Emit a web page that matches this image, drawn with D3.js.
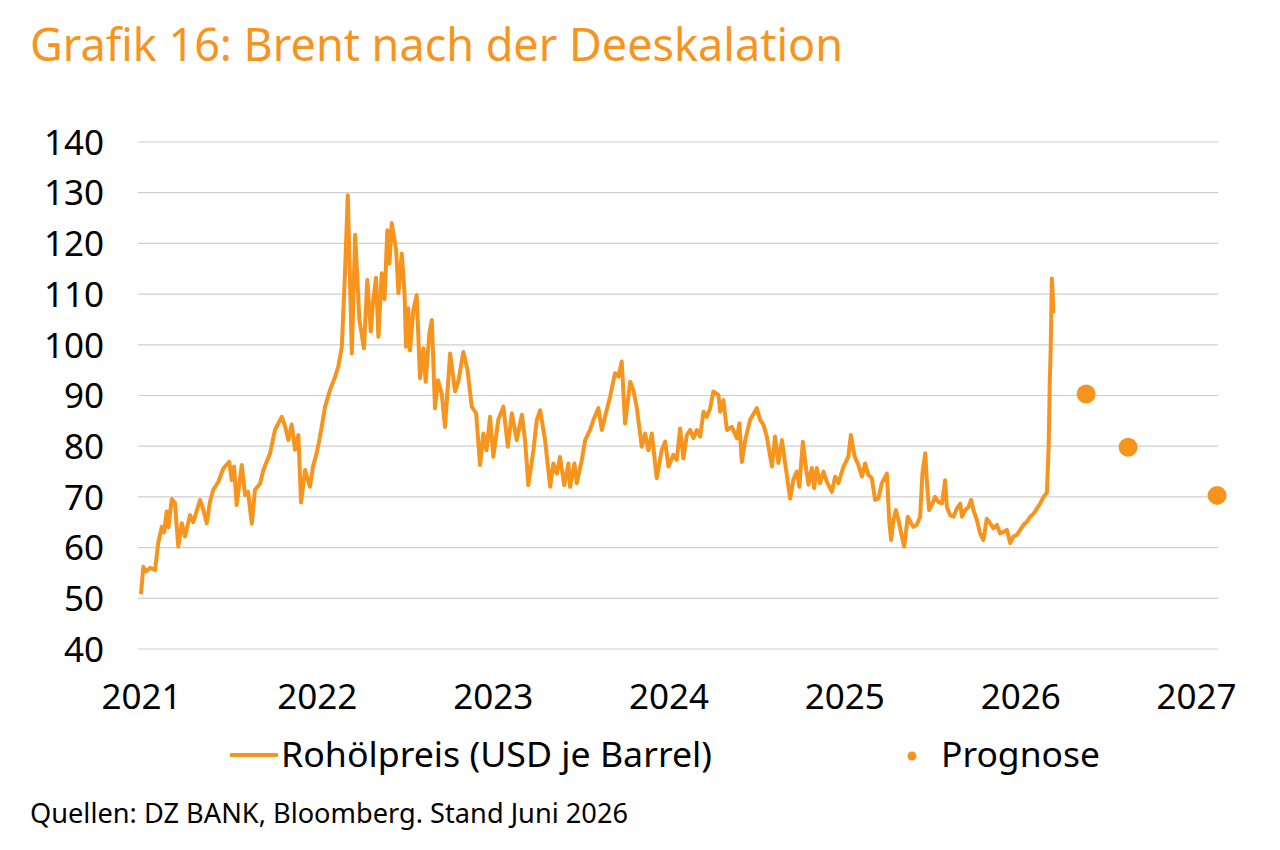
<!DOCTYPE html>
<html>
<head>
<meta charset="utf-8">
<script src="https://cdn.jsdelivr.net/npm/d3@7"></script>
<style>
  body { margin: 0; background: #fff; }
  text { font-family: "Noto Sans", sans-serif; }
</style>
</head>
<body>
<script>
// Brent, Zeitpunkt als Dezimaljahr
var years = [
  2021.000, 2021.013, 2021.028, 2021.051, 2021.080, 2021.098, 2021.118, 2021.131, 2021.146, 2021.156,
  2021.175, 2021.193, 2021.212, 2021.232, 2021.250, 2021.279, 2021.297, 2021.336, 2021.354, 2021.374,
  2021.392, 2021.411, 2021.440, 2021.468, 2021.502, 2021.516, 2021.529, 2021.544, 2021.573, 2021.592,
  2021.609, 2021.630, 2021.648, 2021.677, 2021.696, 2021.734, 2021.762, 2021.800, 2021.819, 2021.838,
  2021.857, 2021.876, 2021.895, 2021.910, 2021.933, 2021.961, 2021.978, 2021.999, 2022.018, 2022.047,
  2022.075, 2022.104, 2022.122, 2022.142, 2022.160, 2022.176, 2022.189, 2022.199, 2022.218, 2022.242,
  2022.268, 2022.287, 2022.307, 2022.321, 2022.337, 2022.350, 2022.369, 2022.385, 2022.401, 2022.413,
  2022.426, 2022.451, 2022.464, 2022.483, 2022.499, 2022.507, 2022.520, 2022.530, 2022.549, 2022.568,
  2022.587, 2022.606, 2022.619, 2022.640, 2022.654, 2022.672, 2022.689, 2022.710, 2022.729, 2022.758,
  2022.786, 2022.806, 2022.833, 2022.857, 2022.881, 2022.906, 2022.928, 2022.947, 2022.965, 2022.985,
  2023.004, 2023.032, 2023.061, 2023.086, 2023.109, 2023.137, 2023.166, 2023.184, 2023.203, 2023.232,
  2023.251, 2023.270, 2023.298, 2023.327, 2023.345, 2023.365, 2023.383, 2023.407, 2023.431, 2023.440,
  2023.465, 2023.478, 2023.507, 2023.526, 2023.554, 2023.573, 2023.601, 2023.621, 2023.639, 2023.668,
  2023.696, 2023.715, 2023.734, 2023.753, 2023.782, 2023.800, 2023.820, 2023.848, 2023.867, 2023.886,
  2023.905, 2023.933, 2023.962, 2023.981, 2024.000, 2024.028, 2024.047, 2024.066, 2024.085, 2024.104,
  2024.123, 2024.142, 2024.161, 2024.180, 2024.199, 2024.218, 2024.237, 2024.255, 2024.284, 2024.294,
  2024.312, 2024.332, 2024.360, 2024.389, 2024.403, 2024.417, 2024.436, 2024.464, 2024.502, 2024.521,
  2024.540, 2024.559, 2024.588, 2024.606, 2024.625, 2024.645, 2024.663, 2024.682, 2024.692, 2024.710,
  2024.730, 2024.744, 2024.764, 2024.783, 2024.796, 2024.815, 2024.828, 2024.843, 2024.862, 2024.881,
  2024.900, 2024.929, 2024.948, 2024.966, 2024.995, 2025.005, 2025.023, 2025.037, 2025.058, 2025.080,
  2025.100, 2025.118, 2025.137, 2025.156, 2025.175, 2025.194, 2025.213, 2025.242, 2025.255, 2025.266,
  2025.279, 2025.293, 2025.308, 2025.327, 2025.340, 2025.361, 2025.380, 2025.393, 2025.412, 2025.431,
  2025.444, 2025.460, 2025.469, 2025.482, 2025.501, 2025.516, 2025.535, 2025.555, 2025.573, 2025.583,
  2025.602, 2025.621, 2025.640, 2025.659, 2025.669, 2025.687, 2025.706, 2025.721, 2025.734, 2025.754,
  2025.772, 2025.791, 2025.810, 2025.829, 2025.848, 2025.867, 2025.886, 2025.905, 2025.924, 2025.943,
  2025.962, 2025.981, 2026.000, 2026.019, 2026.038, 2026.057, 2026.076, 2026.095, 2026.114, 2026.133,
  2026.152, 2026.162, 2026.168, 2026.174, 2026.180, 2026.185, 2026.189
];
var prices = [
  50.8, 56.2, 55.3, 56.0, 55.6, 60.9, 64.1, 63.0, 67.1, 64.0,
  69.6, 68.8, 60.2, 64.8, 62.2, 66.4, 65.0, 69.4, 67.5, 64.8,
  69.0, 71.4, 73.0, 75.6, 76.9, 73.3, 76.0, 68.4, 76.3, 70.4,
  71.0, 64.7, 71.4, 72.6, 75.3, 78.6, 83.2, 85.8, 84.0, 81.2,
  84.3, 79.3, 82.2, 68.9, 75.3, 72.0, 76.0, 78.6, 81.9, 87.8,
  91.1, 93.7, 95.7, 99.6, 114.0, 129.5, 112.0, 98.3, 121.7, 104.9,
  99.3, 112.8, 102.6, 109.0, 113.2, 101.6, 114.1, 109.0, 122.6, 116.0,
  124.0, 118.7, 110.2, 118.0, 110.0, 99.6, 107.2, 98.9, 106.9, 109.8,
  93.4, 99.3, 92.7, 102.3, 104.9, 87.5, 93.0, 90.4, 83.8, 98.3,
  90.8, 93.0, 98.6, 95.0, 87.8, 86.5, 76.3, 82.5, 79.2, 85.8,
  77.9, 85.2, 87.8, 79.9, 86.5, 81.2, 86.2, 81.2, 72.3, 79.3,
  85.2, 87.1, 81.2, 72.0, 76.6, 74.6, 77.9, 72.3, 76.6, 72.0,
  76.6, 72.7, 77.3, 81.2, 83.2, 85.2, 87.5, 83.2, 85.8, 89.8,
  94.4, 93.7, 96.7, 84.5, 92.7, 91.1, 87.5, 79.9, 82.5, 79.2,
  82.5, 73.7, 79.3, 80.9, 76.0, 78.3, 77.3, 83.5, 77.6, 82.2,
  83.2, 81.6, 83.2, 81.9, 86.8, 85.8, 87.5, 90.8, 90.1, 86.8,
  89.1, 83.2, 83.8, 81.6, 84.5, 76.9, 81.2, 85.2, 87.5, 85.2,
  84.2, 81.9, 76.0, 81.9, 76.7, 81.2, 76.7, 72.0, 69.7, 73.4,
  75.0, 72.0, 80.9, 75.4, 72.4, 75.7, 71.7, 75.7, 72.7, 75.0,
  73.0, 71.0, 74.0, 72.7, 76.0, 76.6, 78.0, 82.2, 78.0, 76.3,
  74.0, 76.6, 74.3, 73.7, 69.4, 69.7, 72.7, 74.6, 65.4, 61.5,
  65.4, 67.4, 65.4, 62.2, 60.2, 66.1, 64.8, 64.1, 64.5, 66.1,
  74.6, 78.6, 73.3, 67.4, 68.7, 70.0, 69.0, 68.7, 73.3, 68.0,
  66.4, 66.1, 67.7, 68.7, 66.1, 67.4, 68.0, 69.4, 67.4, 65.4,
  62.8, 61.5, 65.7, 64.8, 63.8, 64.5, 62.8, 63.1, 63.5, 60.9,
  62.2, 62.5, 63.5, 64.5, 65.1, 66.1, 66.7, 67.7, 68.7, 70.0,
  70.8, 80.0, 92.0, 100.0, 113.1, 110.0, 106.2
];

// Prognosepunkte
var forecastYears = [2026.375, 2026.614, 2027.120];
var forecastPrices = [90.3, 79.8, 70.3];

var yTicks = [40, 50, 60, 70, 80, 90, 100, 110, 120, 130, 140];
var xTicks = [2021, 2022, 2023, 2024, 2025, 2026, 2027];

var orange = "#f7941d";

var w = 1280, h = 850;

var svg = d3.select("body").append("svg")
    .attr("width", w)
    .attr("height", h);

var x = d3.scaleLinear().domain([2021, 2027.125]).range([141, 1218]);
var y = d3.scaleLinear().domain([40, 140]).range([649, 142]);

// title
svg.append("text")
    .attr("x", 30)
    .attr("y", 61)
    .attr("fill", orange)
    .attr("font-size", 45)
    .attr("textLength", 813)
    .attr("lengthAdjust", "spacingAndGlyphs")
    .text("Grafik 16: Brent nach der Deeskalation");

// gridlines
svg.append("g").selectAll("line")
    .data(yTicks)
    .enter()
    .append("line")
    .attr("x1", 138)
    .attr("x2", 1218)
    .attr("y1", function(d) { return y(d); })
    .attr("y2", function(d) { return y(d); })
    .attr("stroke", "#cfcfcf")
    .attr("stroke-width", 1.2);

// y axis labels
var yAxis = d3.axisLeft(y).tickValues(yTicks).tickSize(0).tickPadding(0);
svg.append("g")
    .attr("transform", "translate(104,0)")
    .call(yAxis)
    .call(function(g) { g.select(".domain").remove(); })
    .selectAll("text")
    .attr("font-family", "Noto Sans")
    .attr("font-size", 35)
    .attr("fill", "#000")
    .attr("dy", "0.35em");

// x axis labels
var xAxis = d3.axisBottom(x).tickValues(xTicks).tickFormat(d3.format("d")).tickSize(0).tickPadding(0);
svg.append("g")
    .attr("transform", "translate(0,684)")
    .call(xAxis)
    .call(function(g) { g.select(".domain").remove(); })
    .selectAll("text")
    .attr("font-family", "Noto Sans")
    .attr("font-size", 35)
    .attr("fill", "#000")
    .attr("dy", "0.71em");

// price line
var series = years.map(function(t, i) { return [t, prices[i]]; });
var line = d3.line()
    .x(function(d) { return x(d[0]); })
    .y(function(d) { return y(d[1]); });

svg.append("path")
    .datum(series)
    .attr("d", line)
    .attr("fill", "none")
    .attr("stroke", orange)
    .attr("stroke-width", 4)
    .attr("stroke-linejoin", "round");

// forecast dots
svg.append("g").selectAll("circle")
    .data(forecastYears)
    .enter()
    .append("circle")
    .attr("cx", function(d) { return x(d); })
    .attr("cy", function(d, i) { return y(forecastPrices[i]); })
    .attr("r", 9.5)
    .attr("fill", orange);

// legend
svg.append("line")
    .attr("x1", 230).attr("x2", 278)
    .attr("y1", 755).attr("y2", 755)
    .attr("stroke", orange)
    .attr("stroke-width", 4);
svg.append("text")
    .attr("x", 281)
    .attr("y", 767)
    .attr("font-size", 35)
    .attr("textLength", 431)
    .attr("lengthAdjust", "spacingAndGlyphs")
    .text("Rohölpreis (USD je Barrel)");
svg.append("circle")
    .attr("cx", 912).attr("cy", 756)
    .attr("r", 4.5)
    .attr("fill", orange);
svg.append("text")
    .attr("x", 941)
    .attr("y", 767)
    .attr("font-size", 35)
    .attr("textLength", 159)
    .attr("lengthAdjust", "spacingAndGlyphs")
    .text("Prognose");

// source
svg.append("text")
    .attr("x", 30)
    .attr("y", 823)
    .attr("font-size", 27)
    .attr("textLength", 598)
    .attr("lengthAdjust", "spacingAndGlyphs")
    .text("Quellen: DZ BANK, Bloomberg. Stand Juni 2026");
</script>
</body>
</html>
